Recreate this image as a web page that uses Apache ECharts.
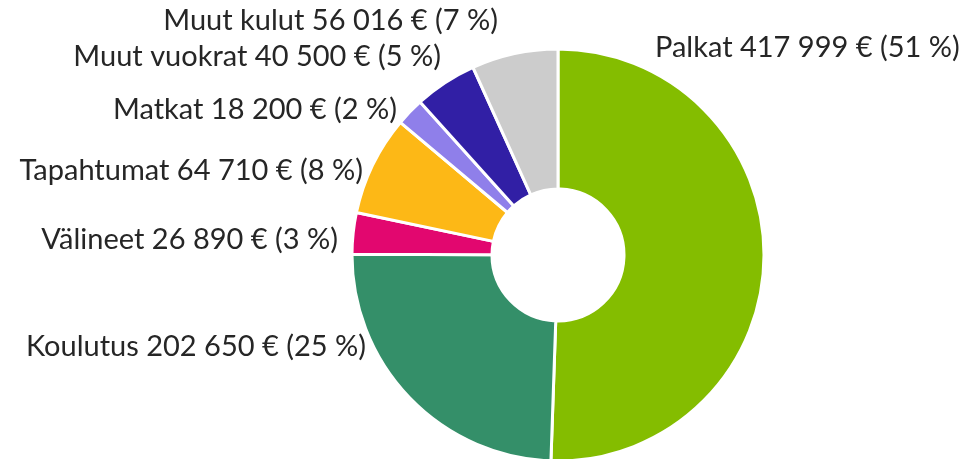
<!DOCTYPE html>
<html>
<head>
<meta charset="utf-8">
<script src="https://cdn.jsdelivr.net/npm/echarts@6/dist/echarts.min.js"></script>
<style>
  html, body { margin: 0; padding: 0; background: #fff; }
  #chart { width: 962px; height: 459px; }
</style>
</head>
<body>
<div id="chart"></div>
<script>
const names = ['Palkat', 'Koulutus', 'Välineet', 'Tapahtumat', 'Matkat', 'Muut vuokrat', 'Muut kulut']
const amounts = [417999, 202650, 26890, 64710, 18200, 40500, 56016]
const colors = ['#84bd00', '#348f69', '#e2076f', '#fdb816', '#8f7fea', '#311fa5', '#cccccc']

// label anchor points (x, y, align)
const labelPos = [
  [655, 48, 'left'],
  [366, 347, 'right'],
  [338, 240, 'right'],
  [363, 171, 'right'],
  [397, 110, 'right'],
  [441, 57, 'right'],
  [498, 21, 'right'],
]

const total = amounts.reduce((a, b) => a + b, 0)
const fmt = (v) => String(v).replace(/\B(?=(\d{3})+(?!\d))/g, ' ')

const chart = echarts.init(document.getElementById('chart'))

chart.setOption({
  animation: false,
  series: [
    {
      type: 'pie',
      center: [558, 255],
      radius: [66, 206],
      startAngle: 90,
      clockwise: true,
      data: names.map((name, i) => ({
        name,
        value: amounts[i],
        itemStyle: { color: colors[i] },
      })),
      itemStyle: { borderColor: '#fff', borderWidth: 3 },
      label: {
        show: true,
        color: '#262626',
        fontFamily: 'Lato',
        fontSize: 29,
        overflow: 'none',
        formatter: (p) => `${p.name} ${fmt(p.value)} € (${Math.round((p.value / total) * 100)} %)`,
      },
      labelLine: { show: false },
      labelLayout: (p) => {
        const [x, y, align] = labelPos[p.dataIndex]
        return { x, y, align, verticalAlign: 'middle', width: 400 }
      },
      emphasis: { disabled: true },
    },
  ],
})
</script>
</body>
</html>
